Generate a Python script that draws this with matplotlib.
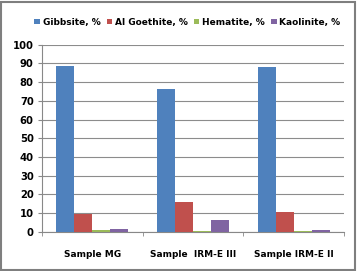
import matplotlib
matplotlib.use("Agg")
import matplotlib.pyplot as plt
import numpy as np
from matplotlib.patches import Rectangle

categories = ["Sample MG", "Sample  IRM-E III", "Sample IRM-E II"]
series_names = ["Gibbsite, %", "Al Goethite, %", "Hematite, %", "Kaolinite, %"]
gibbsite = [88.5, 76.5, 88.0]
goethite = [9.5, 16.0, 10.5]
hematite = [1.0, 0.5, 0.5]
kaolinite = [1.7, 6.0, 1.0]
yticks = [0, 10, 20, 30, 40, 50, 60, 70, 80, 90, 100]

colors = ["#4F81BD", "#C0504D", "#9BBB59", "#8064A2"]
values = [gibbsite, goethite, hematite, kaolinite]

plt.rcParams['font.family'] = ['DejaVu Sans']
fig = plt.figure(figsize=(3.57, 2.71), dpi=100)
ax = fig.add_axes([0.1176, 0.145, 0.846, 0.690])

x = np.arange(len(categories))
w = 0.178
for i, (vals, c, name) in enumerate(zip(values, colors, series_names)):
    ax.bar(x + (i - 1.5) * w, vals, width=w, color=c, label=name, zorder=3)

ax.set_xlim(-0.5, len(categories) - 0.5)
ax.set_ylim(0, 100)
ax.set_yticks(yticks)
ax.set_yticklabels([str(t) for t in yticks], fontsize=7.2, fontweight='bold')
ax.yaxis.grid(True, color="#8c8c8c", linewidth=0.8, zorder=0)
ax.set_xticks(x)
ax.set_xticklabels(categories, fontsize=6.5, fontweight='bold')
ax.tick_params(axis='x', length=0, pad=13)
ax.set_xticks(np.arange(len(categories) + 1) - 0.5, minor=True)
ax.tick_params(axis='x', which='minor', length=3, color="#888888")
ax.tick_params(axis='y', length=3, color="#888888", pad=3)
for s in ['top', 'right']:
    ax.spines[s].set_visible(False)
ax.spines['left'].set_color("#888888")
ax.spines['bottom'].set_color("#888888")

leg = fig.legend(loc='upper center', bbox_to_anchor=(0.525, 0.965), ncol=4,
                 frameon=False, fontsize=6.5, handlelength=0.6, handleheight=0.6,
                 handletextpad=0.3, columnspacing=0.7)
for t in leg.get_texts():
    t.set_fontweight('bold')

fig.patches.append(Rectangle((0.003, 0.004), 0.992, 0.99, transform=fig.transFigure,
                             fill=False, edgecolor="#7f7f7f", linewidth=1.5))
fig.savefig("out.png", dpi=100)
